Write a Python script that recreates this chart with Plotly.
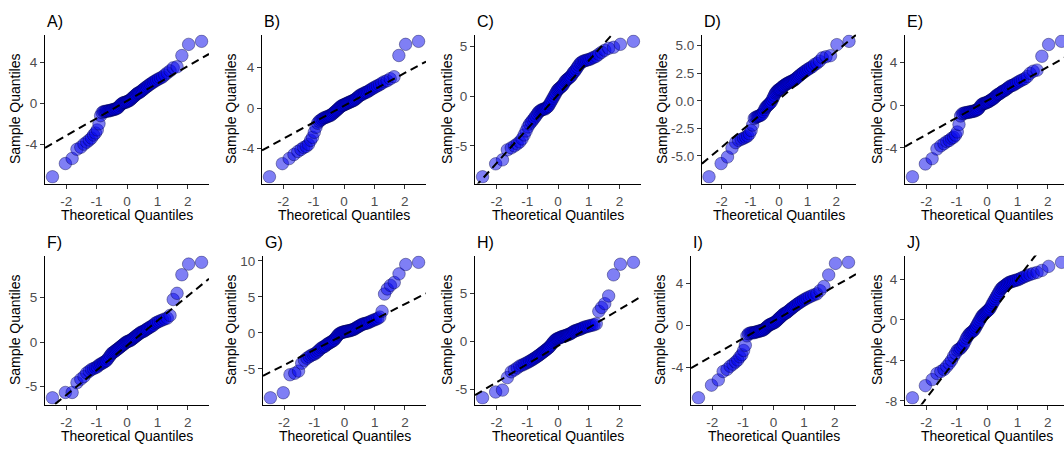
import plotly.graph_objects as go

# ---------------- data ----------------
panel_labels = ["A)", "B)", "C)", "D)", "E)", "F)", "G)", "H)", "I)", "J)"]
x_tick_values = [-2, -1, 0, 1, 2]

theoretical_q = [-2.450, -2.025, -1.803, -1.645, -1.519, -1.415, -1.324, -1.242, -1.168, -1.099,
                 -1.036, -0.977, -0.921, -0.867, -0.817, -0.767, -0.720, -0.674, -0.630, -0.587,
                 -0.545, -0.504, -0.464, -0.424, -0.385, -0.347, -0.309, -0.272, -0.235, -0.198,
                 -0.162, -0.126, -0.090, -0.054, -0.018, 0.018, 0.054, 0.090, 0.126, 0.162,
                 0.198, 0.235, 0.272, 0.309, 0.347, 0.385, 0.424, 0.464, 0.504, 0.545,
                 0.587, 0.630, 0.674, 0.720, 0.767, 0.817, 0.867, 0.921, 0.977, 1.036,
                 1.099, 1.168, 1.242, 1.324, 1.415, 1.519, 1.645, 1.803, 2.025, 2.450]

sample_A = [-7.2, -5.9, -5.4, -4.5, -4.3, -4.0, -3.8, -3.6, -3.4, -3.1,
            -2.9, -2.6, -2.0, -1.2, -0.9, -0.8, -0.8, -0.75, -0.75, -0.7,
            -0.7, -0.65, -0.6, -0.6, -0.55, -0.5, -0.45, -0.35, -0.2, -0.1,
            0.0, 0.05, 0.1, 0.1, 0.15, 0.2, 0.25, 0.3, 0.4, 0.5,
            0.6, 0.7, 0.8, 0.9, 1.0, 1.05, 1.1, 1.2, 1.3, 1.4,
            1.5, 1.6, 1.7, 1.8, 1.9, 2.0, 2.1, 2.2, 2.3, 2.4,
            2.5, 2.6, 2.8, 3.0, 3.2, 3.5, 3.6, 4.7, 5.8, 6.1]
sample_B = [-6.8, -5.5, -5.0, -4.6, -4.3, -4.1, -3.9, -3.8, -3.6, -3.2,
            -2.9, -2.4, -1.9, -1.5, -1.3, -1.2, -1.1, -1.0, -0.95, -0.9,
            -0.85, -0.8, -0.75, -0.7, -0.6, -0.5, -0.4, -0.3, -0.2, -0.1,
            0.0, 0.1, 0.2, 0.25, 0.3, 0.35, 0.4, 0.45, 0.5, 0.55,
            0.6, 0.65, 0.7, 0.75, 0.8, 0.9, 1.0, 1.1, 1.2, 1.3,
            1.35, 1.4, 1.5, 1.55, 1.6, 1.7, 1.8, 1.9, 2.0, 2.1,
            2.2, 2.3, 2.45, 2.6, 2.7, 2.9, 3.1, 5.2, 6.3, 6.6]
sample_C = [-8.1, -6.8, -6.4, -5.4, -5.2, -5.0, -4.8, -4.6, -4.3, -3.9,
            -3.5, -3.1, -2.8, -2.6, -2.4, -2.2, -2.0, -1.8, -1.6, -1.5,
            -1.4, -1.35, -1.3, -1.3, -1.2, -1.1, -1.0, -0.8, -0.6, -0.4,
            -0.2, 0.0, 0.2, 0.4, 0.6, 0.7, 0.8, 0.9, 1.0, 1.1,
            1.3, 1.5, 1.6, 1.7, 1.8, 1.9, 2.0, 2.2, 2.4, 2.5,
            2.7, 2.9, 3.1, 3.3, 3.4, 3.5, 3.55, 3.6, 3.65, 3.7,
            3.8, 3.9, 4.0, 4.2, 4.4, 4.6, 4.8, 4.9, 5.2, 5.5]
sample_D = [-6.9, -5.7, -5.1, -4.3, -3.8, -3.6, -3.5, -3.4, -3.3, -3.2,
            -3.0, -2.7, -2.2, -1.6, -1.5, -1.45, -1.4, -1.35, -1.3, -1.2,
            -1.0, -0.8, -0.6, -0.5, -0.4, -0.3, -0.2, -0.1, 0.1, 0.3,
            0.5, 0.7, 0.8, 0.9, 1.0, 1.05, 1.1, 1.2, 1.3, 1.35,
            1.4, 1.5, 1.55, 1.6, 1.65, 1.7, 1.75, 1.8, 1.85, 1.9,
            2.0, 2.1, 2.2, 2.3, 2.4, 2.5, 2.6, 2.7, 2.8, 2.9,
            3.0, 3.1, 3.3, 3.4, 3.6, 3.9, 4.0, 4.1, 5.1, 5.4]
sample_E = [-6.7, -5.5, -5.0, -4.1, -3.8, -3.6, -3.4, -3.3, -3.1, -3.0,
            -2.8, -2.5, -1.8, -1.0, -0.8, -0.75, -0.7, -0.7, -0.65, -0.65,
            -0.6, -0.6, -0.55, -0.55, -0.5, -0.45, -0.4, -0.3, -0.15, 0.0,
            0.1, 0.15, 0.2, 0.2, 0.25, 0.3, 0.35, 0.4, 0.5, 0.55,
            0.6, 0.7, 0.8, 0.9, 1.0, 1.05, 1.1, 1.2, 1.3, 1.35,
            1.4, 1.5, 1.6, 1.7, 1.8, 1.85, 1.9, 2.0, 2.1, 2.2,
            2.3, 2.4, 2.5, 2.7, 3.0, 3.2, 3.3, 4.6, 5.7, 6.0]
sample_F = [-6.3, -5.7, -5.7, -4.6, -4.2, -3.9, -3.5, -3.3, -3.1, -3.0,
            -2.9, -2.8, -2.6, -2.5, -2.4, -2.3, -2.2, -2.1, -1.9, -1.7,
            -1.5, -1.3, -1.2, -1.1, -1.0, -0.9, -0.8, -0.7, -0.6, -0.5,
            -0.4, -0.3, -0.2, -0.1, 0.0, 0.05, 0.1, 0.15, 0.2, 0.3,
            0.4, 0.5, 0.6, 0.7, 0.8, 0.9, 1.0, 1.1, 1.15, 1.2,
            1.3, 1.4, 1.5, 1.6, 1.7, 1.8, 1.9, 2.1, 2.2, 2.3,
            2.4, 2.5, 2.6, 2.7, 3.0, 4.8, 5.5, 7.6, 8.8, 9.0]
sample_G = [-9.0, -8.3, -5.8, -5.6, -5.3, -4.2, -3.8, -3.5, -3.3, -3.1,
            -3.0, -2.9, -2.7, -2.5, -2.3, -2.1, -2.0, -1.9, -1.8, -1.6,
            -1.5, -1.4, -1.3, -1.2, -1.1, -1.0, -0.8, -0.6, -0.4, -0.2,
            -0.1, 0.0, 0.05, 0.1, 0.15, 0.2, 0.2, 0.25, 0.3, 0.3,
            0.35, 0.4, 0.45, 0.5, 0.6, 0.7, 0.8, 0.9, 1.0, 1.1,
            1.2, 1.25, 1.3, 1.35, 1.4, 1.5, 1.6, 1.7, 1.8, 1.9,
            2.0, 2.2, 3.0, 5.4, 6.1, 6.6, 7.0, 8.2, 9.5, 9.8]
sample_H = [-5.9, -5.3, -5.1, -3.8, -3.2, -3.0, -2.8, -2.6, -2.5, -2.4,
            -2.3, -2.2, -2.1, -2.0, -1.9, -1.8, -1.7, -1.6, -1.5, -1.4,
            -1.3, -1.2, -1.1, -1.0, -0.9, -0.8, -0.7, -0.6, -0.45, -0.3,
            -0.15, 0.0, 0.1, 0.2, 0.25, 0.3, 0.35, 0.4, 0.45, 0.5,
            0.5, 0.55, 0.6, 0.65, 0.7, 0.75, 0.8, 0.9, 1.0, 1.05,
            1.1, 1.15, 1.2, 1.25, 1.3, 1.4, 1.45, 1.5, 1.55, 1.6,
            1.65, 1.7, 1.8, 3.1, 3.5, 3.9, 4.7, 6.9, 8.0, 8.2]
sample_I = [-6.9, -5.7, -5.2, -4.4, -4.2, -3.9, -3.7, -3.5, -3.3, -3.0,
            -2.8, -2.4, -1.9, -1.0, -0.8, -0.75, -0.7, -0.7, -0.7, -0.65,
            -0.6, -0.6, -0.55, -0.5, -0.5, -0.45, -0.4, -0.3, -0.2, -0.1,
            0.0, 0.05, 0.1, 0.15, 0.2, 0.25, 0.3, 0.4, 0.5, 0.6,
            0.7, 0.8, 0.9, 1.0, 1.1, 1.15, 1.2, 1.3, 1.4, 1.5,
            1.6, 1.7, 1.8, 1.9, 2.0, 2.1, 2.2, 2.3, 2.4, 2.5,
            2.6, 2.7, 2.8, 2.9, 3.0, 3.3, 3.7, 4.8, 5.9, 6.0]
sample_J = [-7.7, -6.5, -5.9, -5.3, -5.1, -4.9, -4.6, -4.3, -4.0, -3.6,
            -3.3, -3.0, -2.9, -2.8, -2.6, -2.4, -2.1, -1.8, -1.6, -1.4,
            -1.3, -1.2, -1.1, -1.0, -0.8, -0.6, -0.4, -0.2, 0.0, 0.2,
            0.4, 0.5, 0.6, 0.7, 0.8, 0.9, 1.0, 1.1, 1.3, 1.5,
            1.7, 1.9, 2.1, 2.3, 2.5, 2.7, 2.9, 3.1, 3.2, 3.3,
            3.4, 3.5, 3.6, 3.7, 3.75, 3.8, 3.85, 3.9, 3.95, 4.0,
            4.1, 4.2, 4.3, 4.4, 4.5, 4.6, 4.7, 4.9, 5.3, 5.7]

samples = [sample_A, sample_B, sample_C, sample_D, sample_E,
           sample_F, sample_G, sample_H, sample_I, sample_J]

line_slope = [1.71, 1.63, 3.44, 2.17, 1.59, 2.80, 2.12, 1.90, 1.66, 3.94]
line_intercept = [0.25, 0.21, 0.13, 0.14, 0.42, -0.40, -0.23, -0.50, 0.40, 0.11]

y_tick_values = [[-4, 0, 4], [-4, 0, 4], [-5, 0, 5], [-5.0, -2.5, 0.0, 2.5, 5.0], [-4, 0, 4],
                 [-5, 0, 5], [-5, 0, 5, 10], [-5, 0, 5], [-4, 0, 4], [-8, -4, 0, 4]]
y_tick_labels = [["-4", "0", "4"], ["-4", "0", "4"], ["-5", "0", "5"],
                 ["-5.0", "-2.5", "0.0", "2.5", "5.0"], ["-4", "0", "4"],
                 ["-5", "0", "5"], ["-5", "0", "5", "10"], ["-5", "0", "5"],
                 ["-4", "0", "4"], ["-8", "-4", "0", "4"]]

# ---------------- layout (pixels) ----------------
W, H = 1064, 449
lefts = [45, 262, 475, 702, 905, 45, 263, 475, 691, 905]
rights = [209, 426, 641, 856, 1069, 209, 426, 641, 856, 1069]
tops = [33] * 5 + [257] * 5
bottoms = [184] * 5 + [408] * 5
ytitle_x = [15, 231, 447, 662, 877, 15, 231, 447, 660, 877]

FONT = "Liberation Sans, Arial, sans-serif"
fig = go.Figure()
annotations = []
layout = {}

for k in range(10):
    n = k + 1
    xs = "" if n == 1 else str(n)
    sample = samples[k]
    xmin, xmax = min(theoretical_q), max(theoretical_q)
    xpad = 0.05 * (xmax - xmin)
    xr0, xr1 = xmin - xpad, xmax + xpad
    # panel may be cut at the right edge of the image
    right = min(rights[k], W)
    xr1_vis = xr0 + (xr1 - xr0) * (right - lefts[k]) / (rights[k] - lefts[k])
    ymin, ymax = min(sample), max(sample)
    ypad = 0.05 * (ymax - ymin)
    yr = [ymin - ypad, ymax + ypad]

    fig.add_trace(go.Scatter(
        x=theoretical_q, y=sample, mode="markers",
        marker=dict(size=12.5, color="rgba(0,0,235,0.5)",
                    line=dict(color="rgba(0,0,70,0.4)", width=1)),
        xaxis="x" + xs, yaxis="y" + xs, showlegend=False, hoverinfo="skip"))
    lx = [xr0, xr1]
    ly = [line_slope[k] * v + line_intercept[k] for v in lx]
    fig.add_trace(go.Scatter(
        x=lx, y=ly, mode="lines",
        line=dict(color="black", width=2, dash="8px,5px"),
        xaxis="x" + xs, yaxis="y" + xs, showlegend=False, hoverinfo="skip"))

    axis_common = dict(showgrid=False, zeroline=False, showline=True, linecolor="black",
                       linewidth=1, ticks="outside", ticklen=4, tickwidth=1,
                       tickcolor="#333333",
                       tickfont=dict(family=FONT, size=13.5, color="#4D4D4D"))
    layout["xaxis" + xs] = dict(domain=[lefts[k] / W, right / W], range=[xr0, xr1_vis],
                                anchor="y" + xs, tickmode="array", tickvals=x_tick_values,
                                ticktext=[str(v) for v in x_tick_values],
                                ticklabelstandoff=1, **axis_common)
    layout["yaxis" + xs] = dict(domain=[1 - bottoms[k] / H, 1 - tops[k] / H], range=yr,
                                anchor="x" + xs, tickmode="array", tickvals=y_tick_values[k],
                                ticktext=y_tick_labels[k], ticklabelstandoff=0, **axis_common)

    annotations.append(dict(text=panel_labels[k], x=lefts[k] / W, y=1 - (tops[k] - 13) / H,
                            xref="paper", yref="paper", xanchor="left", yanchor="middle",
                            showarrow=False, font=dict(family=FONT, size=16, color="black")))
    annotations.append(dict(text="Theoretical Quantiles", x=(lefts[k] + rights[k]) / 2 / W,
                            y=1 - (bottoms[k] + 32) / H, xref="paper", yref="paper",
                            xanchor="center", yanchor="middle", showarrow=False,
                            font=dict(family=FONT, size=14, color="black")))
    annotations.append(dict(text="Sample Quantiles", x=ytitle_x[k] / W,
                            y=1 - (tops[k] + bottoms[k]) / 2 / H, xref="paper", yref="paper",
                            xanchor="center", yanchor="middle", textangle=-90, showarrow=False,
                            font=dict(family=FONT, size=14, color="black")))

fig.update_layout(width=W, height=H, margin=dict(l=0, r=0, t=0, b=0),
                  paper_bgcolor="white", plot_bgcolor="white",
                  annotations=annotations, **layout)
fig.write_html("out.html")
